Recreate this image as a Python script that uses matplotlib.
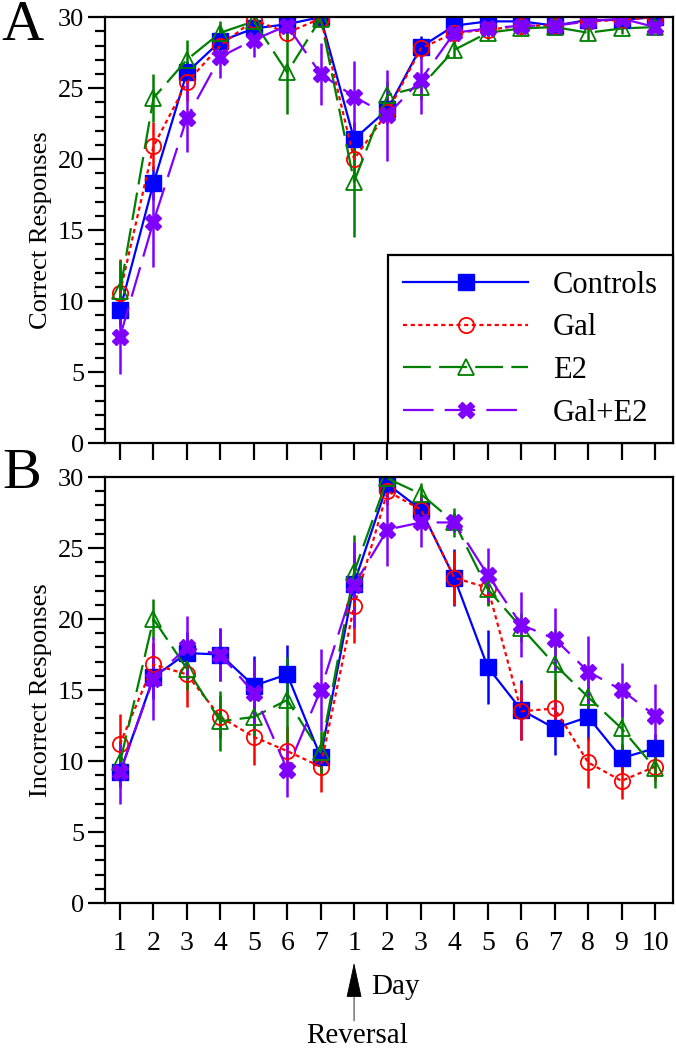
import matplotlib
matplotlib.use("Agg")
import matplotlib.pyplot as plt
from matplotlib.ticker import MultipleLocator

plt.rcParams['font.family'] = ['Liberation Serif', 'DejaVu Serif']
plt.rcParams['lines.scale_dashes'] = False

# x axis: days of acquisition (1-7) then days after reversal (1-10)
day_labels = ['1', '2', '3', '4', '5', '6', '7',
              '1', '2', '3', '4', '5', '6', '7', '8', '9', '10']
days = list(range(1, len(day_labels) + 1))

groups = ['Controls', 'Gal', 'E2', 'Gal+E2']

# panel A: correct responses
ctrl_a = [9.4, 18.3, 26.1, 28.3, 29.2, 29.5, 30.0, 21.4, 23.5, 27.9, 29.4, 29.7, 29.7, 29.4, 29.8, 29.8, 30.0]
gal_a = [10.6, 20.9, 25.4, 28.0, 29.8, 28.9, 29.9, 20.0, 23.3, 27.8, 28.9, 29.1, 29.4, 29.4, 29.7, 29.8, 30.0]
e2_a = [10.7, 24.3, 27.0, 28.9, 29.7, 26.1, 29.9, 18.4, 24.5, 25.1, 27.7, 28.9, 29.2, 29.3, 28.9, 29.2, 29.3]
ge_a = [7.5, 15.6, 22.9, 27.2, 28.4, 29.4, 26.0, 24.4, 23.1, 25.6, 28.9, 29.2, 29.4, 29.4, 29.7, 29.9, 29.3]

ctrl_a_err = [1.0, 1.2, 0.8, 1.1, 0.5, 0.4, 0.2, 1.2, 0.8, 0.8, 0.4, 0.3, 0.2, 0.3, 0.2, 0.2, 0.2]
gal_a_err = [2.4, 1.7, 1.3, 0.8, 0.4, 0.6, 0.3, 1.5, 0.8, 0.6, 0.4, 0.4, 0.3, 0.3, 0.2, 0.2, 0.2]
e2_a_err = [2.2, 1.7, 1.4, 0.8, 0.4, 2.9, 0.3, 3.9, 1.0, 0.9, 0.6, 0.5, 0.4, 0.4, 0.5, 0.4, 0.4]
ge_a_err = [2.6, 3.2, 2.4, 1.5, 1.2, 0.5, 2.2, 2.5, 3.2, 2.4, 0.8, 0.5, 0.4, 0.4, 0.3, 0.3, 0.4]

# panel B: incorrect responses
ctrl_b = [9.2, 15.9, 17.6, 17.5, 15.3, 16.1, 10.3, 22.5, 29.5, 27.7, 22.9, 16.6, 13.6, 12.3, 13.1, 10.2, 10.9]
gal_b = [11.2, 16.8, 16.1, 13.1, 11.7, 10.7, 9.6, 20.9, 29.0, 27.7, 22.9, 22.2, 13.5, 13.7, 9.9, 8.6, 9.6]
e2_b = [9.9, 20.0, 16.5, 12.8, 13.1, 14.3, 10.6, 23.3, 29.9, 28.8, 26.8, 22.1, 19.4, 16.8, 14.5, 12.3, 9.5]
ge_b = [9.2, 15.8, 18.0, 17.5, 14.8, 9.4, 15.0, 22.4, 26.3, 26.8, 26.8, 23.1, 19.6, 18.6, 16.3, 15.0, 13.2]

ctrl_b_err = [1.0, 1.5, 1.5, 1.9, 2.1, 2.1, 1.0, 2.0, 1.0, 1.0, 2.0, 2.6, 2.1, 1.9, 1.6, 1.0, 1.0]
gal_b_err = [2.1, 1.5, 2.3, 1.5, 2.0, 1.8, 1.8, 2.6, 1.0, 1.0, 1.9, 1.2, 2.0, 2.0, 1.8, 1.3, 1.0]
e2_b_err = [1.0, 1.4, 1.5, 2.1, 1.5, 3.0, 1.5, 2.6, 0.5, 0.8, 1.0, 1.2, 1.0, 2.5, 2.0, 2.0, 1.4]
ge_b_err = [2.2, 2.9, 2.2, 1.9, 2.3, 1.9, 2.9, 3.0, 2.6, 1.7, 0.7, 1.9, 2.3, 2.2, 2.5, 1.9, 2.2]

# one style per group
styles = {
    'Controls': dict(color='#0000ff', ls='-', marker='s', ms=11, mfc='#0000ff', mec='#0000ff'),
    'Gal': dict(color='#ff0000', ls=(0, (3, 2.5)), marker='o', ms=11, mfc='none', mec='#ff0000', mew=1.3),
    'E2': dict(color='#008000', ls=(0, (20, 6)), marker='^', ms=12, mfc='none', mec='#008000', mew=1.3),
    'Gal+E2': dict(color='#8000ff', ls=(0, (22, 8)), marker='X', ms=11, mfc='#8000ff', mec='#8000ff'),
}


def draw_panel(ax, series, errs, ylabel):
    lines = []
    for name, vals, err in zip(groups, series, errs):
        st = styles[name]
        cont = ax.errorbar(days, vals, yerr=err, color=st['color'], ls=st['ls'], lw=1.6,
                           marker=st['marker'], ms=st['ms'], mfc=st['mfc'], mec=st['mec'],
                           mew=st.get('mew', 1.0), elinewidth=1.8, capsize=0)
        lines.append(cont.lines[0])
    ax.set_xlim(0.55, 17.54)
    ax.set_ylim(0, 30)
    ax.yaxis.set_major_locator(MultipleLocator(5))
    ax.yaxis.set_minor_locator(MultipleLocator(1))
    ax.set_xticks(days)
    ax.tick_params(axis='y', which='major', direction='out', length=12, width=1.6, labelsize=19, pad=3)
    ax.tick_params(axis='y', which='minor', direction='out', length=7, width=1.6)
    ax.tick_params(axis='x', direction='out', length=12, width=1.6, labelsize=20, pad=8)
    for sp in ax.spines.values():
        sp.set_linewidth(1.6)
    ax.set_ylabel(ylabel, fontsize=19, labelpad=4)
    return lines


fig = plt.figure(figsize=(6.76, 10.5), dpi=100)
ax_a = fig.add_axes([0.1553, 0.578, 0.8403, 0.4057])
ax_b = fig.add_axes([0.1553, 0.140, 0.8403, 0.4057])

lines_a = draw_panel(ax_a, [ctrl_a, gal_a, e2_a, ge_a], [ctrl_a_err, gal_a_err, e2_a_err, ge_a_err], 'Correct Responses')
draw_panel(ax_b, [ctrl_b, gal_b, e2_b, ge_b], [ctrl_b_err, gal_b_err, e2_b_err, ge_b_err], 'Incorrect Responses')
ax_a.set_xticklabels([])
ax_b.set_xticklabels(day_labels)

leg = ax_a.legend(lines_a, groups, loc='lower right', borderaxespad=0, fontsize=22,
                  handlelength=4.1, handletextpad=0.8, labelspacing=0.45,
                  frameon=True, fancybox=False, borderpad=0.5, framealpha=1)
leg.get_frame().set_edgecolor('black')
leg.get_frame().set_linewidth(1.6)

fig.text(0.033, 0.975, 'A', fontsize=42, ha='center', va='center')
fig.text(0.033, 0.549, 'B', fontsize=42, ha='center', va='center')

# reversal marker under the first post-reversal day
ax_b.annotate('', xy=(8, -4.0), xytext=(8, -8.5), xycoords='data', annotation_clip=False,
              arrowprops=dict(arrowstyle='-|>,head_length=2.3,head_width=0.5', color='black', lw=0.6))
ax_b.text(8.5, -5.9, 'Day', fontsize=21, ha='left', va='center', clip_on=False)
ax_b.text(8.1, -9.85, 'Reversal', fontsize=21, ha='center', va='baseline', clip_on=False)

fig.savefig('out.png', dpi=100)
